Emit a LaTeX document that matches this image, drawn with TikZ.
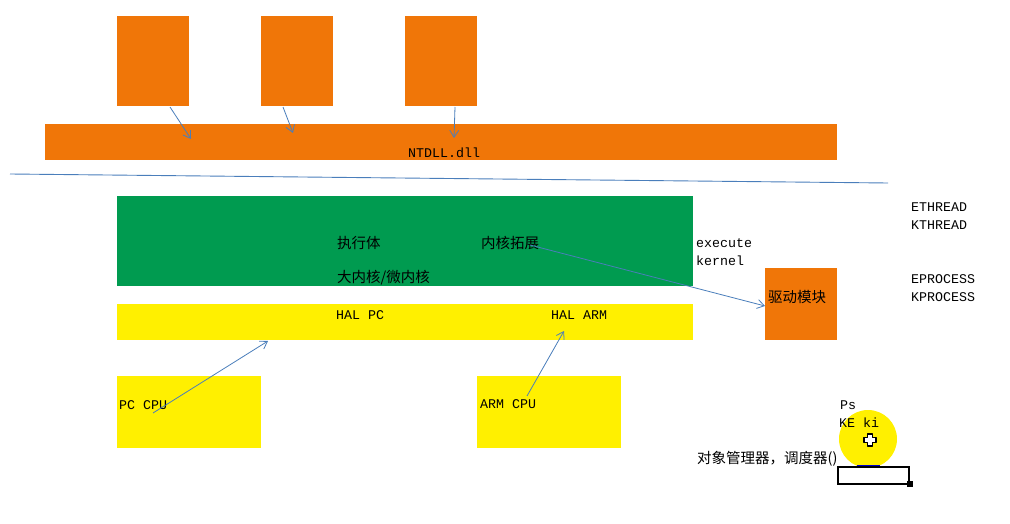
\documentclass[tikz,border=0pt]{standalone}
\usepackage{fontspec}
\usetikzlibrary{arrows.meta}
\newfontfamily\latf{Liberation Mono}
\newfontfamily\cjkf{Noto Sans CJK SC}
\definecolor{orng}{RGB}{240,118,8}
\definecolor{grn}{RGB}{0,155,80}
\definecolor{yel}{RGB}{255,240,0}
\definecolor{lblue}{RGB}{74,126,187}
\tikzset{
  blk/.style={fill=#1,draw=none,inner sep=0pt,outer sep=0pt,anchor=north west},
  lat/.style={inner sep=0pt,anchor=west,font=\latf\fontsize{13.3}{16}\selectfont},
  cjk/.style={inner sep=0pt,anchor=west,font=\cjkf\fontsize{14.5}{18}\selectfont},
  conn/.style={draw=lblue,line width=0.8pt,-{Straight Barb[length=7pt,width=9pt]}}
}
\begin{document}
\begin{tikzpicture}[x=1pt,y=-1pt]
\useasboundingbox (0,0) rectangle (1010,524);
% top boxes
\node[blk=orng,minimum width=72pt,minimum height=90pt] (p1) at (117,16) {};
\node[blk=orng,minimum width=72pt,minimum height=90pt] (p2) at (261,16) {};
\node[blk=orng,minimum width=72pt,minimum height=90pt] (p3) at (405,16) {};
\node[blk=orng,minimum width=792pt,minimum height=36pt] (ntdll) at (45,124) {};
\node[lat] (ntdllt) at (408,153) {NTDLL.dll};
% separator
\coordinate (sepL) at (10,174);
\coordinate (sepR) at (888,183);
\draw[lblue,line width=0.9pt] (sepL) -- (sepR);
% kernel box
\node[blk=grn,minimum width=576pt,minimum height=90pt] (exec) at (117,196) {};
\node[cjk] (t1) at (337,243) {执行体};
\node[cjk] (t2) at (481,243) {内核拓展};
\node[cjk] (t3) at (337,278) {大内核/微内核};
\node[lat] (ex) at (696,243) {execute};
\node[lat] (ke) at (696,261) {kernel};
% HAL
\node[blk=yel,minimum width=576pt,minimum height=36pt] (hal) at (117,304) {};
\node[lat] (halpc) at (336,315) {HAL PC};
\node[lat] (halarm) at (551,315) {HAL ARM};
% driver
\node[blk=orng,minimum width=72pt,minimum height=72pt] (drv) at (765,268) {};
\node[cjk] (drvt) at (768,297) {驱动模块};
% right labels
\node[lat] (eth) at (911,207) {ETHREAD};
\node[lat] (kth) at (911,225) {KTHREAD};
\node[lat] (epr) at (911,279) {EPROCESS};
\node[lat] (kpr) at (911,297) {KPROCESS};
% CPUs
\node[blk=yel,minimum width=144pt,minimum height=72pt] (pccpu) at (117,376) {};
\node[lat] (pccput) at (119,405) {PC CPU};
\node[blk=yel,minimum width=144pt,minimum height=72pt] (armcpu) at (477,376) {};
\node[lat] (armcput) at (480,404.5) {ARM CPU};
% arrows
\coordinate (a1s) at (170,107); \coordinate (a1e) at (191,139);
\coordinate (a2s) at (283,107); \coordinate (a2e) at (293,133);
\coordinate (a3s) at (455,107); \coordinate (a3e) at (454,138);
\coordinate (a4s) at (530,245); \coordinate (a4e) at (765,306);
\coordinate (a5s) at (153,413); \coordinate (a5e) at (268,341);
\coordinate (a6s) at (527,396); \coordinate (a6e) at (564,331);
\draw[conn] (a1s) -- (a1e);
\draw[conn] (a2s) -- (a2e);
\draw[conn] (a3s) -- (a3e);
\draw[conn] (a4s) -- (a4e);
\draw[conn] (a5s) -- (a5e);
\draw[conn] (a6s) -- (a6e);
% highlight circle and cursor
\node[circle,fill=yel,draw=none,minimum size=58pt,inner sep=0pt] (hl) at (868,439) {};
\node[lat] (ps) at (840,405.5) {Ps};
\node[lat] (keki) at (839,423) {KE ki};
\draw[fill=white,draw=black,line width=1.3pt,line join=round]
  (870,440) ++(-2.5,-6) -- ++(5,0) -- ++(0,3.5) -- ++(3.5,0) -- ++(0,5) -- ++(-3.5,0)
  -- ++(0,3.5) -- ++(-5,0) -- ++(0,-3.5) -- ++(-3.5,0) -- ++(0,-5) -- ++(3.5,0) -- cycle;
\node[cjk] (obj) at (697,459) {对象管理器，调度器()};
\draw[blue!80!black,line width=1.5pt] (857,466) -- (880,466);
\node[blk=white,draw=black,line width=2.5pt,minimum width=71pt,minimum height=17pt] (box) at (838,467) {};
\fill[black] (907,481) rectangle (913,487);
\end{tikzpicture}
\end{document}
